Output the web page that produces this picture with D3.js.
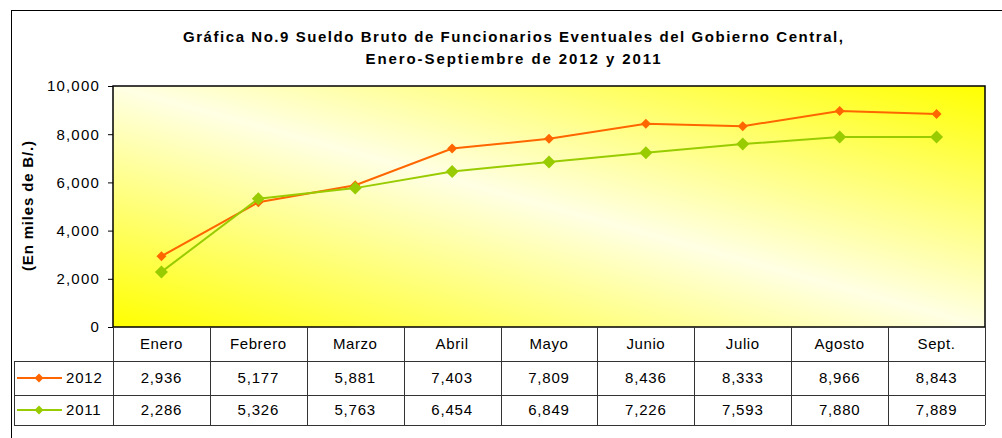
<!DOCTYPE html>
<html lang="es">
<head>
  <meta charset="utf-8">
  <title>Grafica No.9</title>
  <script src="https://cdn.jsdelivr.net/npm/d3@7/dist/d3.min.js"></script>
  <style type="text/css">
    body{ margin:0; background:#fff; }
    text{ font-family: "Liberation Sans", Arial, sans-serif; fill:#000; }
  </style>
</head>
<body>
<script type="text/javascript">

var width = 1002;
var height = 438;

// data
var months = ["Enero","Febrero","Marzo","Abril","Mayo","Junio","Julio","Agosto","Sept."];
var series2012 = [2936, 5177, 5881, 7403, 7809, 8436, 8333, 8966, 8843];
var series2011 = [2286, 5326, 5763, 6454, 6849, 7226, 7593, 7880, 7889];
var seriesNames = ["2012", "2011"];
var yTicks = [0, 2000, 4000, 6000, 8000, 10000];
var titleLines = ["Gráfica No.9 Sueldo Bruto de Funcionarios Eventuales del Gobierno Central,",
                  "Enero-Septiembre de 2012 y 2011"];

var plot = {left:113, right:985, top:86, bottom:327};
var rowH = [34, 34, 30];   // header, 2012, 2011
var tableLeft = 14;

var svg = d3.select("body").append("svg")
    .attr("width", width)
    .attr("height", height);

// gradient for the plot area
var defs = svg.append("defs");
var grad = defs.append("linearGradient")
    .attr("id", "bg")
    .attr("x1", 0).attr("y1", 1).attr("x2", 1).attr("y2", 0);
grad.append("stop").attr("offset", "0").attr("stop-color", "#ffff00");
grad.append("stop").attr("offset", "0.5").attr("stop-color", "#ffffe4");
grad.append("stop").attr("offset", "1").attr("stop-color", "#ffff00");

// outer frame
svg.append("rect")
    .attr("x", 11.5).attr("y", 10.5)
    .attr("width", 1000).attr("height", 500)
    .attr("fill", "none").attr("stroke", "#000").attr("stroke-width", 1);

// title
svg.selectAll(".title")
    .data(titleLines)
    .enter().append("text")
    .attr("class", "title")
    .attr("x", 513)
    .attr("y", function(d, i){ return 42 + i * 22; })
    .attr("text-anchor", "middle")
    .attr("font-size", "15px")
    .attr("font-weight", "bold")
    .attr("textLength", function(d, i){ return i == 0 ? 660 : 295; })
    .attr("lengthAdjust", "spacing")
    .text(function(d){ return d; });

var xScale = d3.scaleBand().domain(months).range([plot.left, plot.right]).padding(0);
var yScale = d3.scaleLinear().domain([0, 10000]).range([plot.bottom, plot.top]);
var cx = function(m){ return xScale(m) + xScale.bandwidth() / 2; };

// plot area
svg.append("rect")
    .attr("x", plot.left).attr("y", plot.top)
    .attr("width", plot.right - plot.left).attr("height", plot.bottom - plot.top)
    .attr("fill", "url(#bg)");

// y axis
var yAxis = d3.axisLeft(yScale)
    .tickValues(yTicks)
    .tickSize(5)
    .tickPadding(8)
    .tickFormat(d3.format(","));
var gy = svg.append("g")
    .attr("transform", "translate(" + plot.left + ",0)")
    .call(yAxis);
gy.select(".domain").remove();
gy.selectAll(".tick line").attr("stroke", "#000");
gy.selectAll(".tick text")
    .attr("font-size", "15px")
    .attr("letter-spacing", "1.2px")
    .attr("font-family", "Liberation Sans, Arial, sans-serif")
    .attr("fill", "#000");

svg.append("text")
    .attr("transform", "translate(33,206) rotate(-90)")
    .attr("text-anchor", "middle")
    .attr("font-size", "15px")
    .attr("font-weight", "bold")
    .attr("textLength", 130)
    .attr("lengthAdjust", "spacing")
    .text("(En miles de B/.)");

// lines
var line = d3.line()
    .x(function(d, i){ return cx(months[i]); })
    .y(function(d){ return yScale(d); });

var seriesList = [
    {name: seriesNames[0], values: series2012, color: "#ff6600", r: 5},
    {name: seriesNames[1], values: series2011, color: "#99cc00", r: 6.5}
];
var diamond = function(r){ return "M0," + (-r) + "L" + r + ",0L0," + r + "L" + (-r) + ",0Z"; };

// 2012 first, 2011 drawn on top like the original
seriesList.forEach(function(s){
    svg.append("path")
        .datum(s.values)
        .attr("d", line)
        .attr("fill", "none")
        .attr("stroke", s.color)
        .attr("stroke-width", 2);
    svg.selectAll(".pt" + s.name)
        .data(s.values)
        .enter().append("path")
        .attr("transform", function(d, i){ return "translate(" + cx(months[i]) + "," + yScale(d) + ")"; })
        .attr("d", diamond(s.r))
        .attr("fill", s.color);
});

// plot border
svg.append("rect")
    .attr("x", plot.left).attr("y", plot.top)
    .attr("width", plot.right - plot.left).attr("height", plot.bottom - plot.top)
    .attr("fill", "none").attr("stroke", "#000").attr("stroke-width", 1.5);

// data table
var rowY = [plot.bottom, plot.bottom + rowH[0], plot.bottom + rowH[0] + rowH[1], plot.bottom + rowH[0] + rowH[1] + rowH[2]];
var tbl = svg.append("g").attr("stroke", "#333").attr("stroke-width", 1);

// horizontal lines
[1, 2, 3].forEach(function(k){
    tbl.append("line")
        .attr("x1", tableLeft).attr("x2", plot.right)
        .attr("y1", rowY[k] + 0.5).attr("y2", rowY[k] + 0.5);
});
// vertical lines
var bounds = months.map(function(m){ return xScale(m); }).concat([plot.right]);
tbl.selectAll(".vl")
    .data(bounds)
    .enter().append("line")
    .attr("x1", function(d){ return Math.round(d) + 0.5; })
    .attr("x2", function(d){ return Math.round(d) + 0.5; })
    .attr("y1", rowY[0]).attr("y2", rowY[3]);
tbl.append("line")
    .attr("x1", tableLeft + 0.5).attr("x2", tableLeft + 0.5)
    .attr("y1", rowY[1]).attr("y2", rowY[3]);

// header
svg.selectAll(".cat")
    .data(months)
    .enter().append("text")
    .attr("x", cx)
    .attr("y", (rowY[0] + rowY[1]) / 2 + 5)
    .attr("text-anchor", "middle")
    .attr("font-size", "15px")
    .attr("letter-spacing", "0.6px")
    .text(function(d){ return d; });

// value rows
var fmt = d3.format(",");
seriesList.forEach(function(s, k){
    var yMid = (rowY[k + 1] + rowY[k + 2]) / 2;
    svg.selectAll(".val" + s.name)
        .data(s.values)
        .enter().append("text")
        .attr("x", function(d, i){ return cx(months[i]); })
        .attr("y", yMid + 5)
        .attr("text-anchor", "middle")
        .attr("font-size", "15px")
        .attr("letter-spacing", "0.8px")
        .text(function(d){ return fmt(d); });
    // legend key
    svg.append("line")
        .attr("x1", 17).attr("x2", 62)
        .attr("y1", yMid).attr("y2", yMid)
        .attr("stroke", s.color).attr("stroke-width", 2);
    svg.append("path")
        .attr("transform", "translate(39," + yMid + ")")
        .attr("d", diamond(4.5))
        .attr("fill", s.color);
    svg.append("text")
        .attr("x", 66)
        .attr("y", yMid + 5)
        .attr("font-size", "15px")
        .attr("letter-spacing", "0.8px")
        .text(s.name);
});

</script>
</body>
</html>
